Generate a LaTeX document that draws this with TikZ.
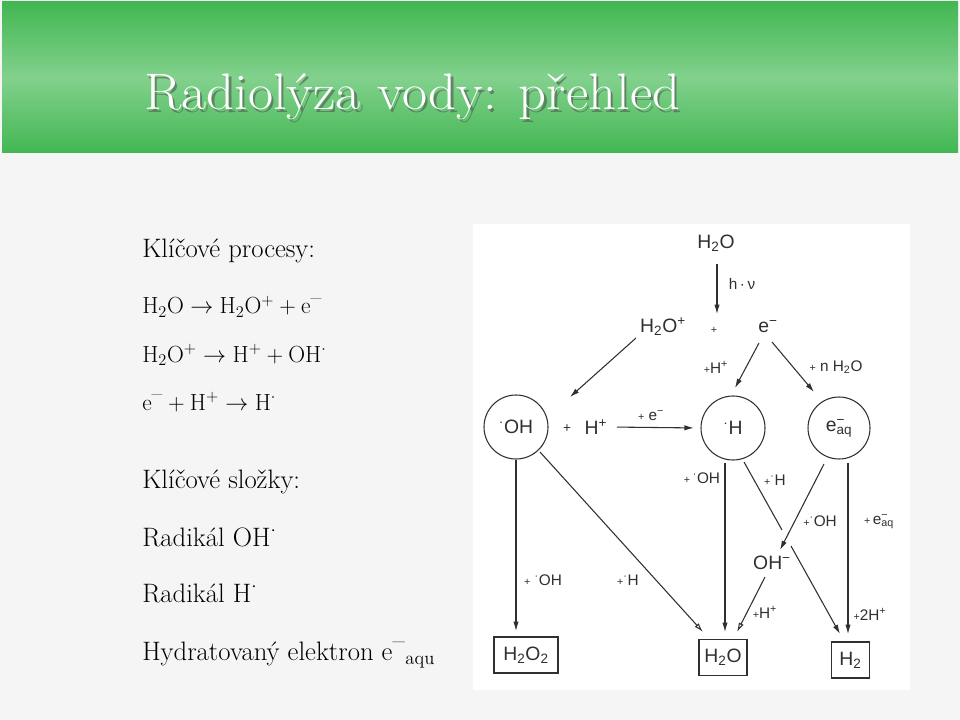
\documentclass[tikz,border=0pt]{standalone}
\usepackage{fontspec}
\newfontfamily\diag{Liberation Sans}
\usetikzlibrary{arrows.meta}
\definecolor{bg}{HTML}{F5F5F5}
\definecolor{gdark}{HTML}{42B752}
\definecolor{glight}{HTML}{82D18D}
\definecolor{ink}{HTML}{303030}
\newcommand\ts[1]{\textsuperscript{#1}}
\newcommand\tb[1]{\textsubscript{#1}}
\newcommand\rdot{\textsuperscript{·}}
\newcommand\pl{\scalebox{0.7}{+}}
\newcommand\mneg{^{\textrm{–}}}
\begin{document}
\begin{tikzpicture}[x=0.75pt,y=-0.75pt,
  txt/.style={anchor=base west,font=\fontsize{20}{24}\selectfont,inner sep=0pt,text=black},
  mtxt/.style={anchor=base west,font=\fontsize{17.5}{21}\selectfont,inner sep=0pt,text=black},
  lbl/.style={font=\diag\fontsize{11.5}{13}\selectfont,text=ink,inner sep=1pt},
  chem/.style={font=\diag\fontsize{14.5}{17}\selectfont,text=ink,inner sep=1pt},
  circ/.style={chem,circle,draw=ink,line width=0.8pt,minimum size=48pt},
  boxnode/.style={chem,draw=ink,line width=0.8pt,inner sep=0pt,minimum height=27pt},
  arr/.style={-{Latex[length=7pt,width=4pt]},draw=ink,line width=0.8pt},
  oarr/.style={-{Latex[open,length=7pt,width=4pt]},draw=ink,line width=0.8pt},
  ttl/.style={anchor=base west,inner sep=0pt,font=\fontsize{38.5}{44}\selectfont}]
\useasboundingbox (0,0) rectangle (960,720);
\fill[bg] (0,0) rectangle (960,720);
% header
\shade[top color=gdark,bottom color=gdark,middle color=glight] (2,2) rectangle (958,153);
\node[ttl,text=black!70,opacity=0.55] (titlesh) at (146.5,112.5) {\scalebox{1.065}[1]{Radiolýza vody: přehled}};
\node[ttl,text=white] (title) at (144,110) {\scalebox{1.065}[1]{Radiolýza vody: přehled}};
% left text
\node[txt] (t1) at (142,258) {Klíčové procesy:};
\node[mtxt] (t2) at (142,314) {$\mathrm{H_2O \rightarrow H_2O^{+} + e\mneg}$};
\node[mtxt] (t3) at (142,362) {$\mathrm{H_2O^{+} \rightarrow H^{+} + OH^{\cdot}}$};
\node[mtxt] (t4) at (142,410) {$\mathrm{e\mneg + H^{+} \rightarrow H^{\cdot}}$};
\node[txt] (t5) at (142,488) {Klíčové složky:};
\node[txt] (t6) at (142,546) {Radikál OH$^{\cdot}$};
\node[txt] (t7) at (142,602) {Radikál H$^{\cdot}$};
\node[txt] (t8) at (142,660) {Hydratovaný elektron e$\mneg{}_{\mathrm{aqu}}$};
% diagram panel
\fill[white] (473,224) rectangle (910,690);
\node[chem] (top) at (716,243) {H\tb{2}O};
\node[chem] (h2op) at (663,327) {H\tb{2}O\ts{+}};
\node[lbl] (plus1) at (714,330) {\pl};
\node[chem] (em) at (768,327) {e\ts{−}};
\node[circ] (OHc) at (516,427) {\rdot OH};
\node[chem] (plusH) at (567,429) {\pl};
\node[chem] (Hp) at (596,427) {H\ts{+}};
\node[circ] (Hc) at (733,428) {\rdot H};
\node[circ,minimum size=46.5pt] (eaqc) at (839,428) {e\rlap{\ts{−}}\tb{aq}};
\node[chem] (OHm) at (772,563) {OH\ts{−}};
\node[boxnode,minimum width=48pt] (h2o2) at (526,655) {H\tb{2}O\tb{2}};
\node[boxnode,minimum width=36pt] (h2ob) at (723,657.5) {H\tb{2}O};
\node[boxnode,minimum width=28pt] (h2b) at (850.5,660) {H\tb{2}};
% coordinates
\coordinate (c1) at (717,264);
\coordinate (c2) at (717,314);
\coordinate (c3) at (636,338);
\coordinate (c4) at (570,397);
\coordinate (c5) at (759,343);
\coordinate (c6) at (735,388);
\coordinate (c7) at (772,342);
\coordinate (c8) at (814,392);
\coordinate (c9) at (540,452);
\coordinate (c10) at (703,632);
\coordinate (c11) at (725,463);
\coordinate (c12) at (725,632);
\coordinate (c13) at (744,462);
\coordinate (c14) at (782,530);
\coordinate (c15) at (791,546);
\coordinate (c16) at (840,634);
\coordinate (c17) at (824,464);
\coordinate (c18) at (780,550);
\coordinate (c19) at (765,577);
\coordinate (c20) at (737,632);
\coordinate (c21) at (848,463);
\coordinate (c22) at (848,634);
\coordinate (c23) at (516,460);
\coordinate (c24) at (516,631);
% arrows
\draw[arr] (c1) -- (c2);
\draw[arr] (c3) -- (c4);
\draw[arr] (c5) -- (c6);
\draw[arr] (c7) -- (c8);
\draw[arr,shorten <=6pt,shorten >=5pt] (Hp.east) -- (Hc.west);
\draw[arr] (c23) -- (c24);
\draw[oarr] (c9) -- (c10);
\draw[arr] (c11) -- (c12);
\draw[draw=ink,line width=0.8pt] (c13) -- (c14);
\draw[arr] (c15) -- (c16);
\draw[arr] (c17) -- (c18);
\draw[oarr] (c19) -- (c20);
\draw[arr] (c21) -- (c22);
% labels
\node[lbl] (l1) at (742,284) {h\,·\,ν};
\node[lbl] (l2) at (716,367) {\pl H\ts{+}};
\node[lbl] (l3) at (836,367) {\pl\ n H\tb{2}O};
\node[lbl] (l4) at (651,416) {\pl\ e\ts{−}};
\node[lbl] (l5) at (543,580) {\pl\ \rdot OH};
\node[lbl] (l6) at (628,580) {\pl\rdot H};
\node[lbl] (l7) at (702,478) {\pl\,\rdot OH};
\node[lbl] (l8) at (775,480) {\pl\rdot H};
\node[lbl] (l9) at (820,521) {\pl\rdot OH};
\node[lbl] (l10) at (879,522) {\pl\,e\rlap{\ts{−}}\tb{aq}};
\node[lbl] (l11) at (765,612) {\pl H\ts{+}};
\node[lbl] (l12) at (870,614) {\pl 2H\ts{+}};
\end{tikzpicture}
\end{document}
